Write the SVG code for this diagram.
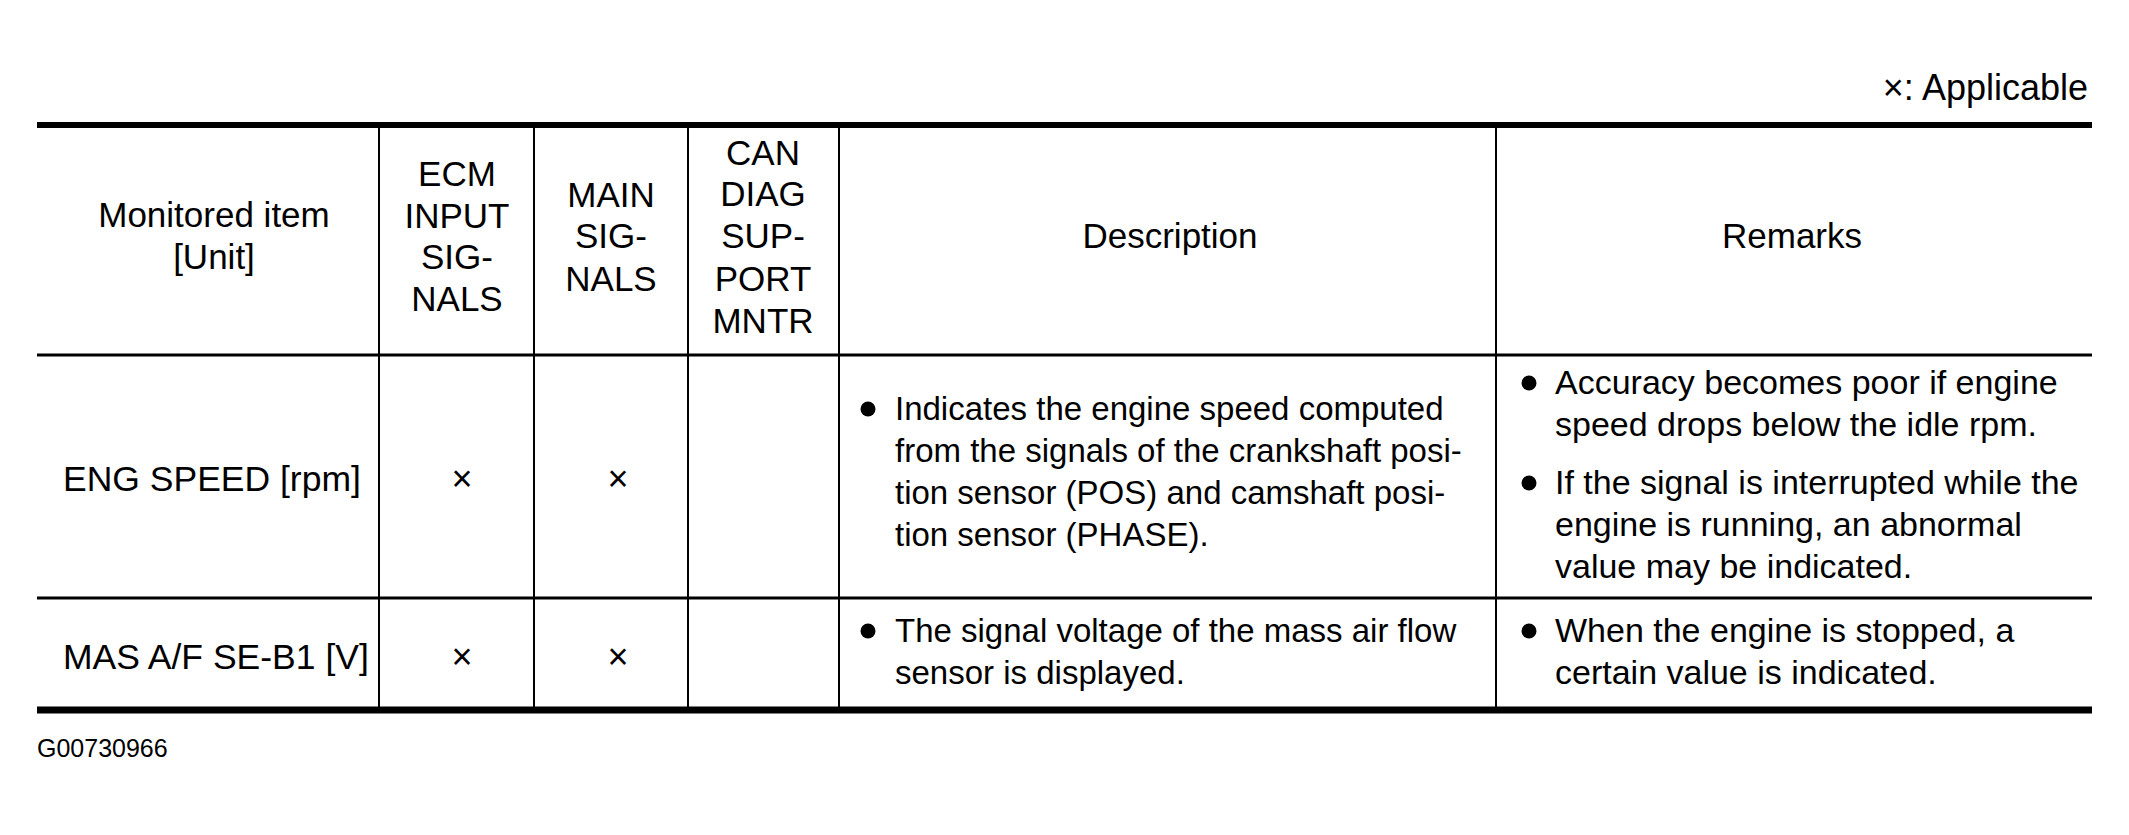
<svg xmlns="http://www.w3.org/2000/svg" width="2129" height="835" viewBox="0 0 2129 835">
<style>
text{font-family:"Liberation Sans",Arial,Helvetica,sans-serif;fill:#000;}
.h{font-size:35px;text-anchor:middle;}
.b{font-size:33px;}
.r{font-size:34px;}
.x{font-size:36px;text-anchor:middle;}
.c{font-size:35.5px;}
.rule{stroke:#000;fill:none;}
.dot{fill:#000;}
</style>
<rect width="2129" height="835" fill="#fff"/>
<text id="legend" x="2088" y="100" text-anchor="end" style="font-size:36px">×: Applicable</text>
<g id="grid">
<line class="rule" x1="37" y1="125" x2="2092" y2="125" stroke-width="6"/>
<line class="rule" x1="37" y1="355" x2="2092" y2="355" stroke-width="3"/>
<line class="rule" x1="37" y1="598" x2="2092" y2="598" stroke-width="3"/>
<line class="rule" x1="37" y1="710" x2="2092" y2="710" stroke-width="7"/>
<line class="rule" x1="379" y1="128" x2="379" y2="707" stroke-width="2"/>
<line class="rule" x1="534" y1="128" x2="534" y2="707" stroke-width="2"/>
<line class="rule" x1="688" y1="128" x2="688" y2="707" stroke-width="2"/>
<line class="rule" x1="839" y1="128" x2="839" y2="707" stroke-width="2"/>
<line class="rule" x1="1496" y1="128" x2="1496" y2="707" stroke-width="2"/>
</g>
<g id="header">
<text class="h" x="214" y="227">Monitored item</text>
<text class="h" x="214" y="269">[Unit]</text>
<text class="h" x="457" y="186">ECM</text>
<text class="h" x="457" y="228">INPUT</text>
<text class="h" x="457" y="269">SIG-</text>
<text class="h" x="457" y="311">NALS</text>
<text class="h" x="611" y="207">MAIN</text>
<text class="h" x="611" y="248">SIG-</text>
<text class="h" x="611" y="291">NALS</text>
<text class="h" x="763" y="165">CAN</text>
<text class="h" x="763" y="206">DIAG</text>
<text class="h" x="763" y="248">SUP-</text>
<text class="h" x="763" y="291">PORT</text>
<text class="h" x="763" y="333">MNTR</text>
<text class="h" x="1170" y="248">Description</text>
<text class="h" x="1792" y="248">Remarks</text>
</g>
<g id="row-eng-speed">
<text class="c" x="63" y="491">ENG SPEED [rpm]</text>
<text class="x" x="462" y="491">×</text>
<text class="x" x="618" y="491">×</text>
<circle class="dot" cx="868" cy="409" r="7.5"/>
<text class="b" x="895" y="420">Indicates the engine speed computed</text>
<text class="b" x="895" y="462">from the signals of the crankshaft posi-</text>
<text class="b" x="895" y="504">tion sensor (POS) and camshaft posi-</text>
<text class="b" x="895" y="546">tion sensor (PHASE).</text>
<circle class="dot" cx="1529" cy="383" r="7.5"/>
<text class="r" x="1555" y="394">Accuracy becomes poor if engine</text>
<text class="r" x="1555" y="436">speed drops below the idle rpm.</text>
<circle class="dot" cx="1529" cy="483" r="7.5"/>
<text class="r" x="1555" y="494">If the signal is interrupted while the</text>
<text class="r" x="1555" y="536">engine is running, an abnormal</text>
<text class="r" x="1555" y="578">value may be indicated.</text>
</g>
<g id="row-mas-af">
<text class="c" x="63" y="669">MAS A/F SE-B1 [V]</text>
<text class="x" x="462" y="669">×</text>
<text class="x" x="618" y="669">×</text>
<circle class="dot" cx="868" cy="631" r="7.5"/>
<text class="b" x="895" y="642">The signal voltage of the mass air flow</text>
<text class="b" x="895" y="684">sensor is displayed.</text>
<circle class="dot" cx="1529" cy="631" r="7.5"/>
<text class="r" x="1555" y="642">When the engine is stopped, a</text>
<text class="r" x="1555" y="684">certain value is indicated.</text>
</g>
<text id="code" x="37" y="757" style="font-size:25px">G00730966</text>
</svg>
